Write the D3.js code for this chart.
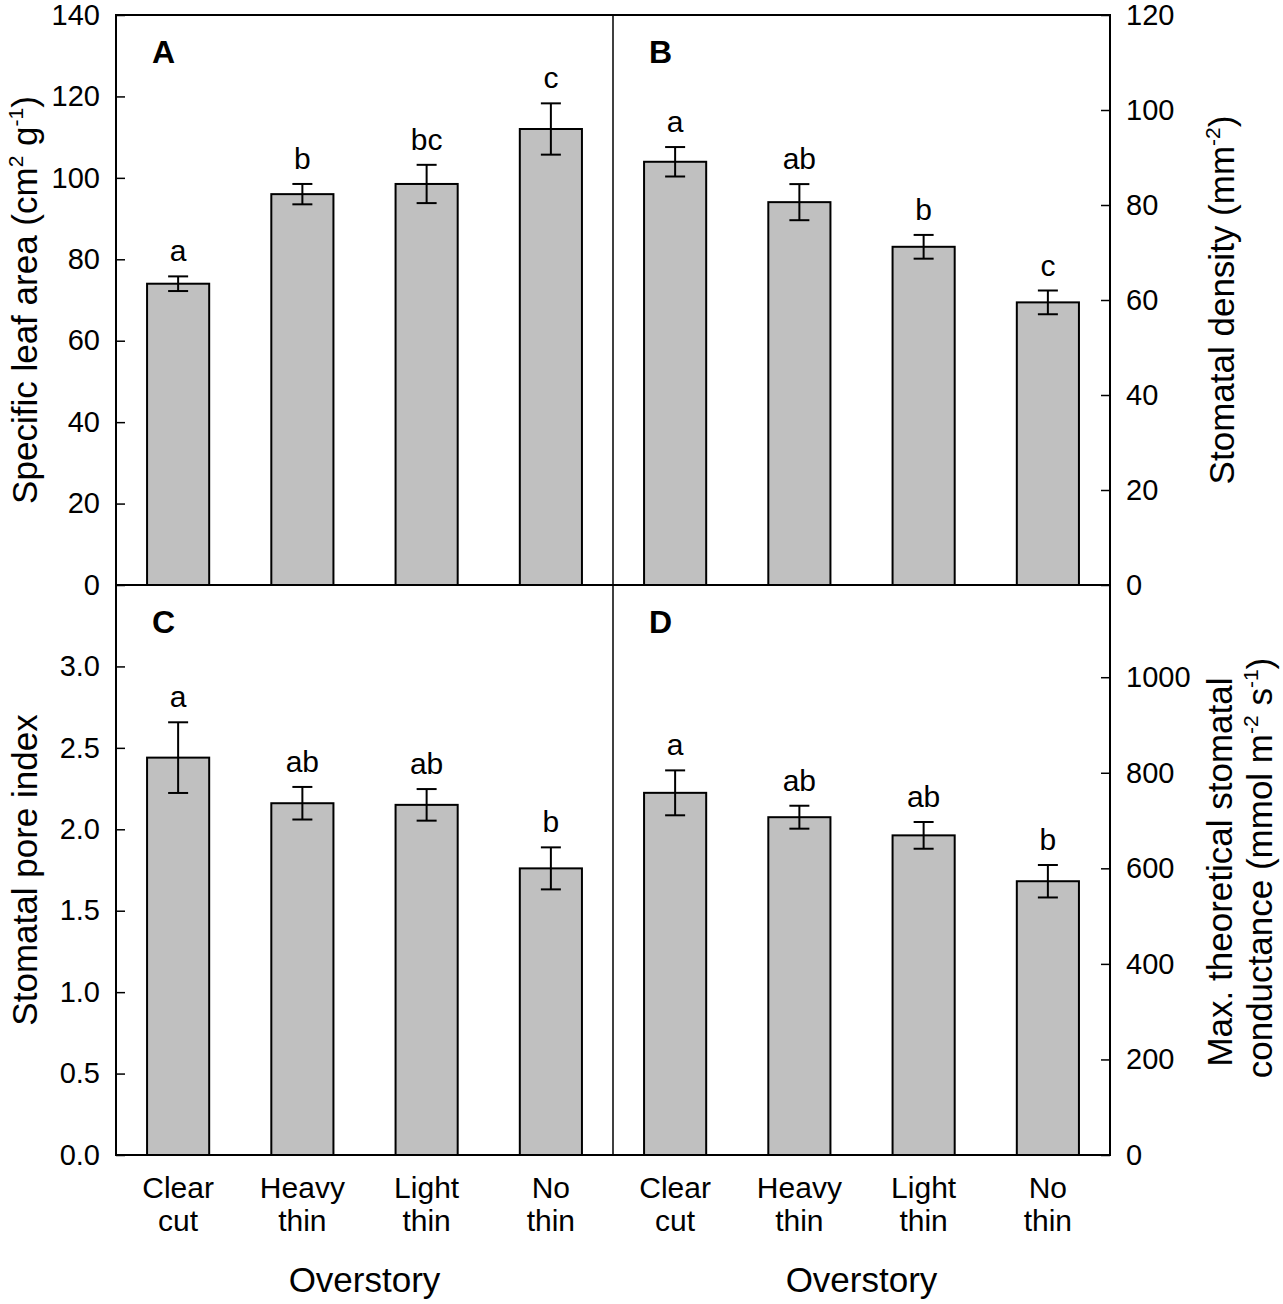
<!DOCTYPE html>
<html>
<head>
<meta charset="utf-8">
<script src="https://cdn.jsdelivr.net/npm/d3@7"></script>
<style>
  body { margin: 0; background: #fff; }
  svg { display: block; font-family: "Liberation Sans", Arial, sans-serif; }
</style>
</head>
<body>
<div id="chart"></div>
<script>
// overstory treatments
var categories = ['Clear cut', 'Heavy thin', 'Light thin', 'No thin'];

// A - specific leaf area
var slaMean = [74, 96, 98.5, 112];
var slaErr = [1.8, 2.5, 4.7, 6.3];
var slaLetters = ['a', 'b', 'bc', 'c'];
var slaTicks = [0, 20, 40, 60, 80, 100, 120, 140];

// B - stomatal density
var densMean = [89.1, 80.6, 71.2, 59.5];
var densErr = [3.1, 3.8, 2.5, 2.5];
var densLetters = ['a', 'ab', 'b', 'c'];
var densTicks = [0, 20, 40, 60, 80, 100, 120];

// C - stomatal pore index
var poreMean = [2.44, 2.16, 2.15, 1.76];
var poreErr = [0.217, 0.10, 0.097, 0.129];
var poreLetters = ['a', 'ab', 'ab', 'b'];
var poreTicks = [0, 0.5, 1.0, 1.5, 2.0, 2.5, 3.0];

// D - max theoretical stomatal conductance
var gmaxMean = [758, 707, 669, 573];
var gmaxErr = [47, 24, 28, 34];
var gmaxLetters = ['a', 'ab', 'ab', 'b'];
var gmaxTicks = [0, 200, 400, 600, 800, 1000];

var width = 1283, height = 1304;
var xLeft = 116, xMid = 613, xRight = 1110;
var yTop = 15, yMid = 585, yBottom = 1155;

var svg = d3.select('#chart')
  .append('svg')
  .attr('width', width)
  .attr('height', height);

function drawPanel(opts) {
  var x = d3.scaleBand()
    .domain(categories)
    .range([opts.x0, opts.x1])
    .paddingInner(0.5)
    .paddingOuter(0.25);

  var y = d3.scaleLinear()
    .domain(opts.domain)
    .range([opts.y1, opts.y0]);

  var g = svg.append('g');

  var data = categories.map(function (c, i) {
    return { cat: c, mean: opts.mean[i], err: opts.err[i], letter: opts.letters[i] };
  });

  g.selectAll('rect.bar')
    .data(data)
    .enter()
    .append('rect')
    .attr('class', 'bar')
    .attr('x', function (d) { return x(d.cat); })
    .attr('y', function (d) { return y(d.mean); })
    .attr('width', x.bandwidth())
    .attr('height', function (d) { return y(0) - y(d.mean); })
    .attr('fill', '#c0c0c0')
    .attr('stroke', '#000')
    .attr('stroke-width', 2);

  // error bars
  var cap = 10;
  var eb = g.selectAll('g.err')
    .data(data)
    .enter()
    .append('g')
    .attr('class', 'err')
    .attr('stroke', '#000')
    .attr('stroke-width', 2);

  eb.append('line')
    .attr('x1', function (d) { return x(d.cat) + x.bandwidth() / 2; })
    .attr('x2', function (d) { return x(d.cat) + x.bandwidth() / 2; })
    .attr('y1', function (d) { return y(d.mean + d.err); })
    .attr('y2', function (d) { return y(d.mean - d.err); });
  eb.append('line')
    .attr('x1', function (d) { return x(d.cat) + x.bandwidth() / 2 - cap; })
    .attr('x2', function (d) { return x(d.cat) + x.bandwidth() / 2 + cap; })
    .attr('y1', function (d) { return y(d.mean + d.err); })
    .attr('y2', function (d) { return y(d.mean + d.err); });
  eb.append('line')
    .attr('x1', function (d) { return x(d.cat) + x.bandwidth() / 2 - cap; })
    .attr('x2', function (d) { return x(d.cat) + x.bandwidth() / 2 + cap; })
    .attr('y1', function (d) { return y(d.mean - d.err); })
    .attr('y2', function (d) { return y(d.mean - d.err); });

  // significance letters
  g.selectAll('text.sig')
    .data(data)
    .enter()
    .append('text')
    .attr('class', 'sig')
    .attr('x', function (d) { return x(d.cat) + x.bandwidth() / 2; })
    .attr('y', function (d) { return y(d.mean + d.err) - 15; })
    .attr('text-anchor', 'middle')
    .attr('font-size', 30)
    .text(function (d) { return d.letter; });

  // panel letter
  g.append('text')
    .attr('x', opts.x0 + 36)
    .attr('y', opts.y0 + 48)
    .attr('font-size', 32)
    .attr('font-weight', 'bold')
    .text(opts.label);

  // y axis, ticks pointing inward
  var axis = (opts.side === 'left' ? d3.axisLeft(y) : d3.axisRight(y))
    .tickValues(opts.ticks)
    .tickSizeInner(-9)
    .tickSizeOuter(0)
    .tickPadding(16)
    .tickFormat(opts.format);

  var ax = g.append('g')
    .attr('transform', 'translate(' + (opts.side === 'left' ? opts.x0 : opts.x1) + ',0)')
    .call(axis);
  ax.select('.domain').remove();
  ax.selectAll('line').attr('stroke-width', 1.5);
  ax.selectAll('text')
    .attr('font-size', 29)
    .attr('font-family', '"Liberation Sans", Arial, sans-serif')
    .attr('fill', '#000');

  return { x: x, y: y };
}

var pA = drawPanel({ x0: xLeft, x1: xMid, y0: yTop, y1: yMid, domain: [0, 140], mean: slaMean, err: slaErr,
  letters: slaLetters, ticks: slaTicks, side: 'left', label: 'A', format: d3.format('d') });
var pB = drawPanel({ x0: xMid, x1: xRight, y0: yTop, y1: yMid, domain: [0, 120], mean: densMean, err: densErr,
  letters: densLetters, ticks: densTicks, side: 'right', label: 'B', format: d3.format('d') });
var pC = drawPanel({ x0: xLeft, x1: xMid, y0: yMid, y1: yBottom, domain: [0, 3.5], mean: poreMean, err: poreErr,
  letters: poreLetters, ticks: poreTicks, side: 'left', label: 'C', format: d3.format('.1f') });
var pD = drawPanel({ x0: xMid, x1: xRight, y0: yMid, y1: yBottom, domain: [0, 1193], mean: gmaxMean, err: gmaxErr,
  letters: gmaxLetters, ticks: gmaxTicks, side: 'right', label: 'D', format: d3.format('d') });

// frame
svg.append('rect')
  .attr('x', xLeft).attr('y', yTop)
  .attr('width', xRight - xLeft).attr('height', yBottom - yTop)
  .attr('fill', 'none').attr('stroke', '#000').attr('stroke-width', 2);
svg.append('line')
  .attr('x1', xLeft).attr('x2', xRight).attr('y1', yMid).attr('y2', yMid)
  .attr('stroke', '#000').attr('stroke-width', 2);
svg.append('line')
  .attr('x1', xMid).attr('x2', xMid).attr('y1', yTop).attr('y2', yBottom)
  .attr('stroke', '#000').attr('stroke-width', 1.5);

// category labels
[pC, pD].forEach(function (p) {
  var t = svg.selectAll(null)
    .data(categories)
    .enter()
    .append('text')
    .attr('text-anchor', 'middle')
    .attr('font-size', 30);
  t.append('tspan')
    .attr('x', function (d) { return p.x(d) + p.x.bandwidth() / 2; })
    .attr('y', 1198)
    .text(function (d) { return d.split(' ')[0]; });
  t.append('tspan')
    .attr('x', function (d) { return p.x(d) + p.x.bandwidth() / 2; })
    .attr('y', 1231)
    .text(function (d) { return d.split(' ')[1]; });
});

[(xLeft + xMid) / 2, (xMid + xRight) / 2].forEach(function (cx) {
  svg.append('text')
    .attr('x', cx).attr('y', 1292)
    .attr('text-anchor', 'middle')
    .attr('font-size', 35)
    .text('Overstory');
});

// axis titles
function vTitle(xb, yc, parts) {
  var t = svg.append('text')
    .attr('transform', 'translate(' + xb + ',' + yc + ') rotate(-90)')
    .attr('text-anchor', 'middle')
    .attr('font-size', 35);
  parts.forEach(function (p) {
    var s = t.append('tspan').text(p[0]);
    if (p[1] === 'sup') s.attr('font-size', 21).attr('dy', -14);
    else if (p[1] === 'back') s.attr('dy', 14);
  });
}

vTitle(37, 300, [['Specific leaf area (cm'], ['2', 'sup'], [' g', 'back'], ['-1', 'sup'], [')', 'back']]);
vTitle(1234, 300, [['Stomatal density (mm'], ['-2', 'sup'], [')', 'back']]);
vTitle(37, 870, [['Stomatal pore index']]);
vTitle(1232, 872, [['Max. theoretical stomatal']]);
vTitle(1272, 868, [['conductance (mmol m'], ['-2', 'sup'], [' s', 'back'], ['-1', 'sup'], [')', 'back']]);
</script>
</body>
</html>
